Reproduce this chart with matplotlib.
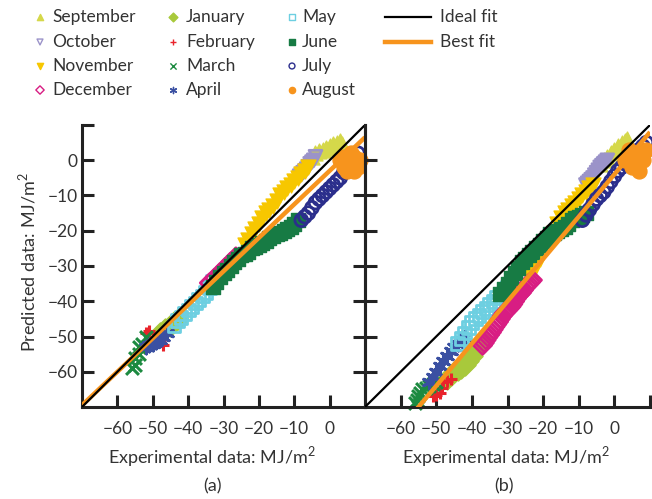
import matplotlib
matplotlib.use("Agg")
import matplotlib.pyplot as plt
import numpy as np

plt.rcParams["font.family"] = ["Lato", "DejaVu Sans"]
plt.rcParams["mathtext.fontset"] = "custom"
plt.rcParams["mathtext.rm"] = "Lato"

# ---- data: (experimental, predicted) pairs per month, MJ/m2 ----
# panel (a)
sep_a = [(-5, 1), (-4, 2), (-3, 2.5), (-2, 3), (-1, 3.5), (0, 4), (1, 4.5), (2, 5), (3, 5.5), (3.5, 4.5)]
oct_a = [(-8.5, -4.5), (-8, -4), (-7.5, -3.5), (-7, -3), (-6.5, -2.5), (-6, -1.8), (-5.5, -1), (-5, -0.5),
         (-4.5, 0), (-4, 1)]
nov_a = [(-24, -24), (-23, -22.5), (-22, -21), (-21, -19.5), (-20, -18), (-19, -16.5), (-18, -15), (-17, -14),
         (-16, -13), (-15, -11.5), (-14, -10), (-13, -9), (-12, -8), (-11, -7), (-10, -6), (-9, -5), (-8, -4),
         (-7, -3), (-6, -2)]
dec_a = [(-34, -34.8), (-32.5, -33.4), (-31, -31.9), (-29.5, -30.4), (-28, -28.9), (-26.5, -27.4)]
jan_a = [(-48, -49), (-46.5, -48), (-45, -47), (-44, -46), (-43, -45)]
feb_a = [(-52, -49), (-51, -48.5), (-50, -50), (-49, -51), (-48, -51), (-47, -52.5)]
mar_a = [(-56, -59), (-55, -58), (-55, -56), (-54, -55), (-54, -53), (-53, -52), (-52, -50)]
apr_a = [(-52, -53), (-51, -52.5), (-50, -52), (-49, -51.5), (-48, -51), (-47, -50), (-46, -49)]
may_a = [(-44, -47), (-43, -45.5), (-42, -44.5), (-41, -43.5), (-40, -42.5), (-39, -41.5), (-38, -40.5),
         (-37, -39.5), (-36, -38.5), (-35, -37.5), (-34, -36), (-33, -34.5)]
jun_a = [(-33, -36), (-32, -34.5), (-31, -33), (-30, -32), (-29, -31), (-28, -30), (-27, -29), (-26, -28),
         (-25, -27), (-24, -26.5), (-23, -26), (-22, -25), (-21, -24.5), (-20, -24), (-19, -23.5), (-18, -23),
         (-17, -22), (-16, -21.5), (-15, -21), (-14, -20.5), (-13, -20), (-12, -19.5), (-11, -19), (-10, -18),
         (-9, -17)]
jul_a = [(-8, -17), (-7, -16), (-6, -15), (-5, -13.5), (-4, -12), (-3, -11), (-2, -10), (-1, -9), (0, -8),
         (1, -7), (2, -6), (3, -5), (4, -3.5), (5, -2.5), (6, -1.5), (7, 0), (8, 2)]
aug_a = [(3, 0), (4, -2), (5, -3), (6, -1), (7, 1), (8, -2), (6, 2), (4, 1), (7, -3), (5, 0), (8.5, 0)]

# panel (b)
sep_b = [(-4, -1), (-3, 0), (-2, 1), (-1, 2), (0, 3), (1, 4), (2, 5), (3, 5.5), (3.5, 6)]
oct_b = [(-8, -7), (-7.5, -6.5), (-7, -6), (-6.5, -5.5), (-6, -5), (-5.5, -4.2), (-5, -3.5), (-4.5, -2.8),
         (-4, -2), (-3.5, -1.5), (-3, -1), (-2.5, -0.5), (-2, 0)]
nov_b = [(-24, -33), (-23, -31.5), (-22, -30), (-21, -28), (-20, -26), (-19, -24.5), (-18, -23), (-17, -20.5),
         (-16, -18), (-15, -16.5), (-14, -15), (-13, -14), (-12, -13), (-11, -12), (-10, -11), (-9, -10),
         (-8, -9), (-7, -8), (-6, -7)]
dec_b = [(-37, -52.5), (-36.5, -51.8), (-36, -51), (-35.5, -50.2), (-35, -49.5), (-34.5, -48.8), (-34, -48),
         (-33.5, -47.2), (-33, -46.5), (-32.5, -45.8), (-32, -45), (-31.5, -44.2), (-31, -43.5), (-30.5, -43),
         (-30, -42.5), (-29.5, -42), (-29, -41.5), (-28.5, -40.8), (-28, -40), (-27.5, -39.2), (-27, -38.5),
         (-26.5, -38), (-26, -37.5), (-25.5, -36.8), (-25, -36), (-24.5, -35.5), (-24, -35), (-23.5, -34.5),
         (-23, -34)]
jan_b = [(-47, -62), (-46, -61), (-45, -60), (-44, -59.5), (-43, -59), (-42, -58), (-41, -57), (-40, -55.5),
         (-39, -54), (-38, -52.5), (-37, -51)]
feb_b = [(-51, -67), (-50, -66.5), (-49, -66), (-48.5, -64.5), (-48, -63), (-47, -62.5), (-46, -62)]
mar_b = [(-56, -69), (-55.5, -68), (-55, -67), (-54.5, -66), (-54, -65), (-53, -64.5), (-52, -64), (-51, -63.5),
         (-50, -63)]
apr_b = [(-52, -63), (-51, -61.5), (-50, -60), (-49, -58.5), (-48, -57), (-47, -55.5), (-46, -54), (-45, -53),
         (-44, -52), (-43, -51), (-42, -50)]
may_b = [(-44, -52), (-43, -50.5), (-42, -49), (-41, -47.5), (-40, -46), (-39, -45), (-38, -44), (-37, -43),
         (-36, -42), (-35, -41), (-34, -40), (-33, -39), (-32, -38), (-31, -37), (-30, -36)]
jun_b = [(-32, -38), (-31, -36.5), (-30, -35), (-29, -33.5), (-28, -32), (-27, -30.5), (-26, -29), (-25, -28),
         (-24, -27), (-23, -26), (-22, -25), (-21, -24), (-20, -23), (-19, -22), (-18, -21), (-17, -20.5),
         (-16, -20), (-15, -19.5), (-14, -19), (-13, -18), (-12, -17), (-11, -16.5), (-10, -16), (-9, -15.5),
         (-8, -15)]
jul_b = [(-9, -17), (-8, -15.5), (-7, -14), (-6, -12.5), (-5, -11), (-4, -10), (-3, -9), (-2, -7.5), (-1, -6),
         (0, -4.5), (1, -3), (2, -2), (3, -1), (4, 0), (5, 1), (6, 2), (7, 3), (8, 4), (9, 5)]
aug_b = [(3, 0), (4, 3), (5, -2), (6, 2), (7, -3), (8, 0), (9, 3), (6, -1), (8, 2), (4, 1)]

months = ["September", "October", "November", "December", "January", "February",
          "March", "April", "May", "June", "July", "August"]
panel_a = [sep_a, oct_a, nov_a, dec_a, jan_a, feb_a, mar_a, apr_a, may_a, jun_a, jul_a, aug_a]
panel_b = [sep_b, oct_b, nov_b, dec_b, jan_b, feb_b, mar_b, apr_b, may_b, jun_b, jul_b, aug_b]

# best-fit line coefficients (slope, intercept) for each panel
fit_a = (0.95, -3.0)
fit_b = (1.2, -4.0)

axis_lim = (-70, 10)
tick_vals = [-60, -50, -40, -30, -20, -10, 0]

# marker styles: (marker, colour, filled)
styles = [
    ("^", "#d5d84a", True),
    ("v", "#9b93c9", False),
    ("v", "#f7c700", True),
    ("D", "#d81d83", False),
    ("D", "#a8c93b", True),
    ("+", "#e9232b", True),
    ("x", "#1c8a40", True),
    ((6, 2, 0), "#3a50a2", True),
    ("s", "#6dcfe1", False),
    ("s", "#177b44", True),
    ("o", "#2b2e8c", False),
    ("o", "#f7941d", True),
]
# drawing order of the months (December on top of its neighbours)
draw_order = [0, 1, 2, 4, 5, 6, 7, 8, 3, 9, 10, 11]
ORANGE = "#f7941d"
TEXT = "#333333"

W, H = 652, 499
fig = plt.figure(figsize=(W / 100, H / 100), dpi=100)


def fx(px):
    return px / W


def fy(py):
    return 1 - py / H


ax_a = fig.add_axes([fx(82), fy(407), fx(365) - fx(82), fy(125) - fy(407)])
ax_b = fig.add_axes([fx(365), fy(407), fx(650) - fx(365), fy(125) - fy(407)])


def draw_points(ax, series):
    for k in draw_order:
        mk, col, filled = styles[k]
        arr = np.array(series[k], dtype=float)
        if mk in ("+", "x") or isinstance(mk, tuple):
            ax.scatter(arr[:, 0], arr[:, 1], marker=mk, s=85, color=col, linewidths=2.2, clip_on=False, zorder=2)
        elif filled:
            ax.scatter(arr[:, 0], arr[:, 1], marker=mk, s=115, color=col, edgecolors=col, linewidths=1,
                       clip_on=False, zorder=2)
        else:
            ax.scatter(arr[:, 0], arr[:, 1], marker=mk, s=85, facecolors="none", edgecolors=col,
                       linewidths=2.0, clip_on=False, zorder=2)


for ax, series, fit in ((ax_a, panel_a, fit_a), (ax_b, panel_b, fit_b)):
    draw_points(ax, series)
    xs = np.array(axis_lim, dtype=float)
    ax.plot(xs, xs, color="black", lw=1.6, zorder=4, solid_capstyle="butt")
    ax.plot(xs, fit[0] * xs + fit[1], color=ORANGE, lw=3.2, zorder=3, solid_capstyle="butt")
    ax.set_xlim(axis_lim)
    ax.set_ylim(axis_lim)
    ax.patch.set_visible(False)
    ax.spines["top"].set_visible(False)
    for s in ("left", "bottom", "right"):
        ax.spines[s].set_linewidth(2.2)
        ax.spines[s].set_color("#222222")
    ax.tick_params(direction="in", length=8.5, width=2.2, labelsize=12.5, colors="#222222",
                   labelcolor=TEXT)
    ax.tick_params(axis="x", pad=10)
    ax.tick_params(axis="y", pad=3)


def fmt(v):
    return f"\u2212{-v}" if v < 0 else str(v)


# panel (a): y ticks on both sides, labels on left only
ax_a.set_yticks([10] + tick_vals)
ax_a.set_yticklabels([""] + [fmt(v) for v in tick_vals])
ax_a.set_xticks(tick_vals)
ax_a.set_xticklabels([fmt(v) for v in tick_vals])
ax_a.tick_params(axis="y", right=True)
ax_a.yaxis.get_major_ticks()[0].tick2line.set_visible(False)

# panel (b): inward ticks on shared left spine, no labels there
ax_b.spines["right"].set_visible(False)
ax_b.set_yticks(tick_vals)
ax_b.set_yticklabels([])
ax_b.set_xticks(tick_vals + [10])
ax_b.set_xticklabels([fmt(v) for v in tick_vals] + [""])

# axis titles
fig.text(fx(212), fy(457), r"Experimental data: MJ/m$^{2}$", ha="center", va="center", fontsize=13, color=TEXT)
fig.text(fx(212), fy(486), "(a)", ha="center", va="center", fontsize=13, color=TEXT)
fig.text(fx(506), fy(457), r"Experimental data: MJ/m$^{2}$", ha="center", va="center", fontsize=13, color=TEXT)
fig.text(fx(504), fy(486), "(b)", ha="center", va="center", fontsize=13, color=TEXT)
fig.text(fx(27), fy(262), r"Predicted data: MJ/m$^{2}$", ha="center", va="center", rotation=90, fontsize=13,
         color=TEXT)

# legend block
leg = fig.add_axes([0, 0, 1, 1], zorder=10)
leg.set_xlim(0, W)
leg.set_ylim(H, 0)
leg.axis("off")
rows = [17, 42, 66, 90]
mk_x = [40, 173, 292]
tx_x = [52, 186, 302]
for i, (name, (mk, col, filled)) in enumerate(zip(months, styles)):
    c, r = divmod(i, 4)
    if mk in ("+", "x") or isinstance(mk, tuple):
        leg.scatter([mk_x[c]], [rows[r]], marker=mk, s=20, color=col, linewidths=1.0)
    elif filled:
        leg.scatter([mk_x[c]], [rows[r]], marker=mk, s=20, color=col)
    else:
        leg.scatter([mk_x[c]], [rows[r]], marker=mk, s=18, facecolors="none", edgecolors=col, linewidths=1.0)
    leg.text(tx_x[c], rows[r], name, va="center", ha="left", fontsize=12.5, color=TEXT)
leg.plot([385, 431], [rows[0], rows[0]], color="black", lw=1.6)
leg.text(440, rows[0], "Ideal fit", va="center", ha="left", fontsize=12.5, color=TEXT)
leg.plot([385, 431], [rows[1], rows[1]], color=ORANGE, lw=3.2)
leg.text(440, rows[1], "Best fit", va="center", ha="left", fontsize=12.5, color=TEXT)

fig.savefig("out.png", dpi=100)
